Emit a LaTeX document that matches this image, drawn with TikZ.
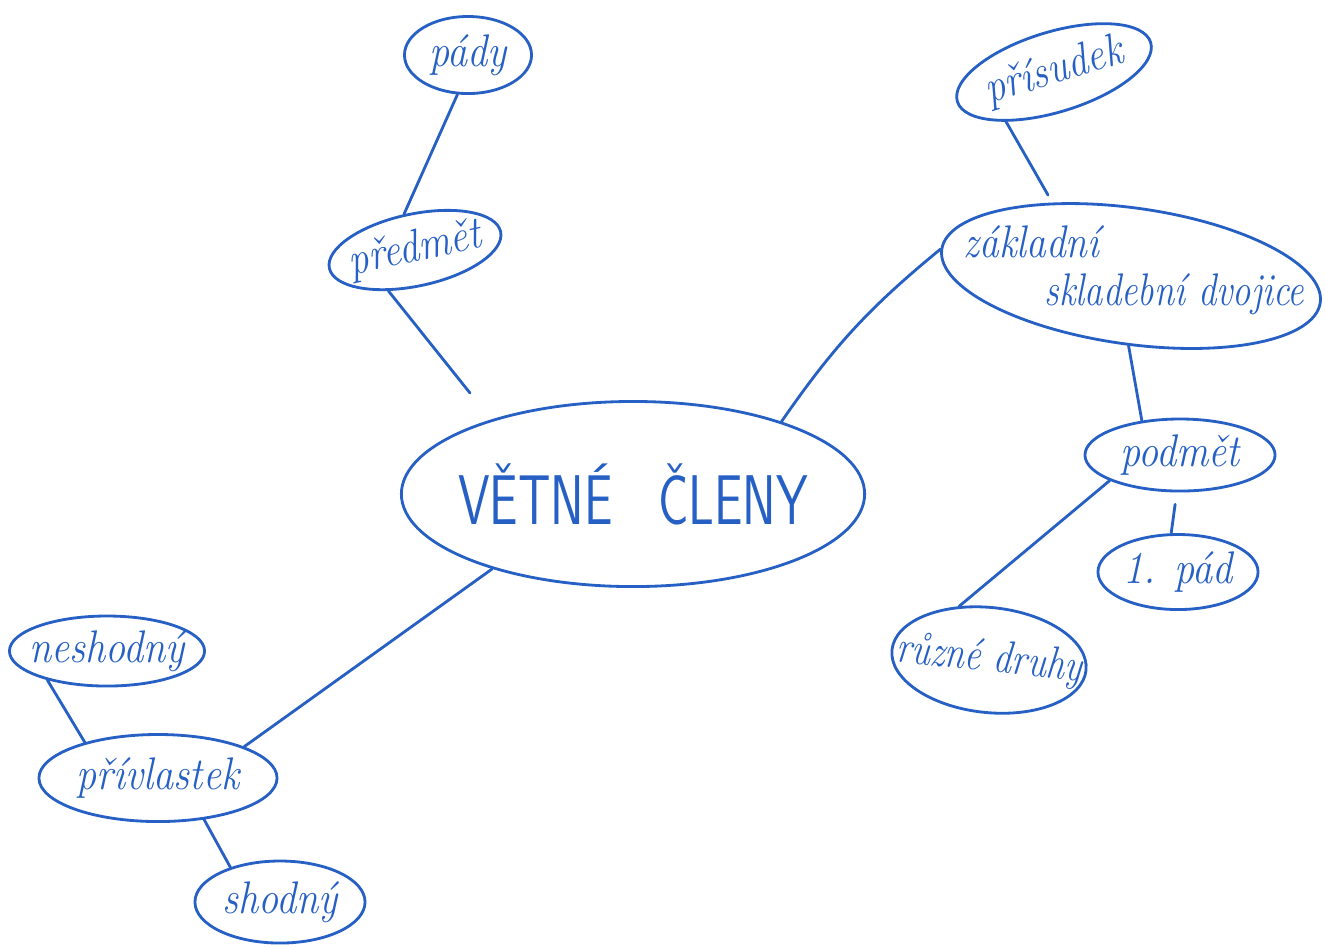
\documentclass[tikz,border=0pt]{standalone}
\usetikzlibrary{shapes.geometric,calc}
\definecolor{ink}{RGB}{38,96,196}
\newcommand{\cursive}[1]{\makebox[0pt]{\scalebox{0.88}[1]{#1}}}
\begin{document}
\begin{tikzpicture}[x=0.01cm,y=-0.01cm,
  ink line/.style={draw=ink,line width=0.8pt,line cap=round,line join=round},
  bubble/.style={ellipse,ink line,inner sep=0pt,text=ink,
    font=\itshape\fontsize{13}{15}\selectfont},
  hand/.style={text=ink,font=\itshape\fontsize{13}{13.5}\selectfont},
  link/.style={ink line}]
\useasboundingbox[fill=white] (0,0) rectangle (1325,947);

% centre
\node[bubble,minimum width=4.63cm,minimum height=1.85cm,
      font=\sffamily\fontsize{20}{24}\selectfont] (center) at (633,494)
      {\makebox[0pt]{\scalebox{0.72}[1]{VĚTNÉ\hspace{0.9em}ČLENY}}};

% left upper branch
\node[bubble,minimum width=1.27cm,minimum height=0.77cm] (pady) at (468,55) {\cursive{pády}};
\node[bubble,minimum width=1.75cm,minimum height=0.72cm,rotate=12] (predmet) at (415,250) {\cursive{předmět}};

% right upper branch
\node[bubble,minimum width=2.02cm,minimum height=0.8cm,rotate=17] (prisudek) at (1054,72) {\cursive{přísudek}};
\node[bubble,minimum width=3.82cm,minimum height=1.36cm,rotate=-8] (zakladni) at (1131,276) {};
\node[hand,align=left,anchor=west,inner sep=0pt] (zakladnitext) at (963,270)
  {\scalebox{0.86}[1]{základní}\\\hspace{23pt}\scalebox{0.8}[1]{skladební dvojice}};

% right lower branch
\node[bubble,minimum width=1.9cm,minimum height=0.72cm] (podmet) at (1180,455) {\cursive{podmět}};
\node[bubble,minimum width=1.6cm,minimum height=0.75cm] (pad) at (1178,572) {\cursive{1. pád}};
\node[bubble,minimum width=1.95cm,minimum height=1.05cm,rotate=-6] (druhy) at (989,660)
  {\makebox[0pt]{\scalebox{0.8}[1]{různé druhy}}};

% left lower branch
\node[bubble,minimum width=1.95cm,minimum height=0.7cm] (neshodny) at (107,651) {\cursive{neshodný}};
\node[bubble,minimum width=2.38cm,minimum height=0.87cm] (privlastek) at (158,778) {\cursive{přívlastek}};
\node[bubble,minimum width=1.7cm,minimum height=0.82cm] (shodny) at (280,902) {\cursive{shodný}};

% free ends of connectors
\coordinate (e1) at (470,393);
\coordinate (e2) at (1048,195);

% connectors
\draw[link] (pady.255) -- (predmet.95);
\draw[link] (predmet.225) -- (e1);
\draw[link] (center.26) to[bend left=8] (zakladni.west);
\draw[link] (prisudek.209) -- (e2);
\draw[link] (zakladni.276) -- (podmet.138);
\draw[link] (podmet.200) -- (druhy.125);
\draw[link,shorten <=0.12cm] (podmet.265) -- (pad.100);
\draw[link] (center.208) -- (privlastek.20);
\draw[link] (privlastek.154) -- (neshodny.206);
\draw[link] (privlastek.318) -- (shodny.145);
\end{tikzpicture}
\end{document}
